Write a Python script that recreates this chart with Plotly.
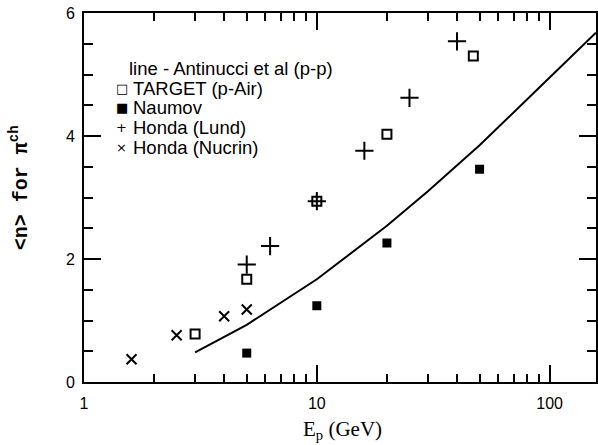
import plotly.graph_objects as go

# ---- data ----
antinucci_x = [3, 5, 10, 20, 30, 50, 100, 158]
antinucci_y = [0.48, 0.93, 1.67, 2.54, 3.10, 3.85, 4.95, 5.68]

target_x = [3, 5, 10, 20, 47]
target_y = [0.78, 1.67, 2.94, 4.03, 5.30]

naumov_x = [5, 10, 20, 50]
naumov_y = [0.47, 1.24, 2.26, 3.46]

lund_x = [5, 6.3, 10, 16, 25, 40]
lund_y = [1.91, 2.21, 2.94, 3.76, 4.62, 5.54]

nucrin_x = [1.6, 2.5, 4, 5]
nucrin_y = [0.37, 0.76, 1.07, 1.18]

legend_labels = ["line - Antinucci et al (p-p)", "TARGET (p-Air)", "Naumov",
                 "Honda (Lund)", "Honda (Nucrin)"]
legend_symbols = ["", "\u25a1", "\u25a0", "+", "\u00d7"]

x_major = [1, 10, 100]
x_minor = [v * d for d in (1, 10, 100) for v in range(2, 10)]
y_major = [0, 2, 4, 6]
y_minor = [0.5, 1, 1.5, 2.5, 3, 3.5, 4.5, 5, 5.5]

fig = go.Figure()
fig.add_trace(go.Scatter(x=antinucci_x, y=antinucci_y, mode="lines",
                         line=dict(color="black", width=2)))
fig.add_trace(go.Scatter(x=target_x, y=target_y, mode="markers",
                         marker=dict(symbol="square-open", size=9, color="black",
                                     line=dict(width=2, color="black"))))
fig.add_trace(go.Scatter(x=naumov_x, y=naumov_y, mode="markers",
                         marker=dict(symbol="square", size=9, color="black")))
fig.add_trace(go.Scatter(x=lund_x, y=lund_y, mode="markers",
                         marker=dict(symbol="cross-thin", size=13, color="black",
                                     line=dict(width=2, color="black"))))
fig.add_trace(go.Scatter(x=nucrin_x, y=nucrin_y, mode="markers",
                         marker=dict(symbol="x-thin", size=10, color="black",
                                     line=dict(width=2, color="black"))))

tickfont = dict(family="Liberation Sans, Arial, sans-serif", size=16, color="black")

fig.update_xaxes(type="log", range=[0, 2.199], tickmode="array", tickvals=x_major,
                 ticktext=[str(v) for v in x_major],
                 ticks="inside", ticklen=17, tickwidth=2, tickcolor="black",
                 showline=True, linewidth=2, linecolor="black", mirror="allticks",
                 showgrid=False, zeroline=False, tickfont=tickfont,
                 ticklabelstandoff=6,
                 minor=dict(tickmode="array", tickvals=x_minor, ticks="inside",
                            ticklen=8, tickwidth=2, tickcolor="black", showgrid=False))
fig.update_yaxes(range=[0, 6], tickmode="array", tickvals=y_major,
                 ticktext=[str(v) for v in y_major],
                 ticks="inside", ticklen=17, tickwidth=2, tickcolor="black",
                 showline=True, linewidth=2, linecolor="black", mirror="allticks",
                 showgrid=False, zeroline=False, tickfont=tickfont,
                 ticklabelstandoff=4,
                 minor=dict(tickmode="array", tickvals=y_minor, ticks="inside",
                            ticklen=9, tickwidth=2, tickcolor="black", showgrid=False))

annotations = []
leg_font = dict(family="Liberation Sans, Arial, sans-serif", size=18.5, color="black")
leg_y = [68, 88.5, 108, 127, 147.5]
H = 369.0
for i, (lab, sym) in enumerate(zip(legend_labels, legend_symbols)):
    py = (382 - leg_y[i]) / H
    if i == 0:
        annotations.append(dict(x=(127 - 84) / 514.0, y=py, xref="paper", yref="paper",
                                text=lab, showarrow=False, xanchor="left",
                                yanchor="middle", font=leg_font))
    else:
        annotations.append(dict(x=(122 - 84) / 514.0, y=py, xref="paper", yref="paper",
                                text=sym, showarrow=False, xanchor="center",
                                yanchor="middle",
                                font=dict(family="DejaVu Sans", size=13, color="black")))
        annotations.append(dict(x=(131 - 84) / 514.0, y=py, xref="paper", yref="paper",
                                text=lab, showarrow=False, xanchor="left",
                                yanchor="middle", font=leg_font))

annotations.append(dict(x=(344 - 84) / 514.0, y=(382 - 430) / H, xref="paper", yref="paper",
                        text="E<sub>p</sub> (GeV)", showarrow=False,
                        xanchor="center", yanchor="middle",
                        font=dict(family="Liberation Serif, serif", size=21, color="black")))
annotations.append(dict(x=(19 - 84) / 514.0, y=(382 - 188) / H, xref="paper", yref="paper",
                        text="<b>&lt;n&gt; for \u03c0<sup>ch</sup></b>", showarrow=False,
                        textangle=-90, xanchor="center", yanchor="middle",
                        font=dict(family="Liberation Mono, Courier New, monospace",
                                  size=20, color="black")))

fig.update_layout(width=598, height=445, margin=dict(l=84, r=0, t=13, b=63),
                  paper_bgcolor="white", plot_bgcolor="white", showlegend=False,
                  annotations=annotations)

fig.write_html("out.html")
